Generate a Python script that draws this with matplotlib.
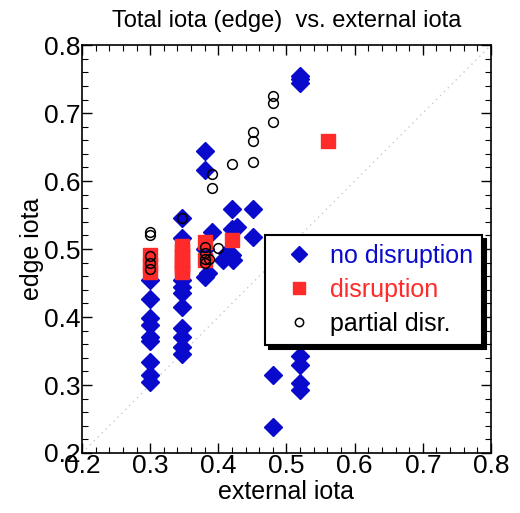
import matplotlib
matplotlib.use("Agg")
import matplotlib.pyplot as plt
from matplotlib.ticker import MultipleLocator

plt.rcParams['font.family'] = ['Liberation Sans', 'DejaVu Sans']

# no disruption (blue diamonds)
nd_x = [0.30]*9 + [0.347]*10 + [0.38, 0.38, 0.39, 0.42, 0.451, 0.427, 0.42, 0.451, 0.413, 0.42, 0.407, 0.422,
        0.385, 0.38, 0.38, 0.52, 0.52, 0.52, 0.52, 0.52, 0.52, 0.52, 0.48, 0.48]
nd_y = [0.454, 0.426, 0.399, 0.388, 0.371, 0.365, 0.334, 0.315, 0.304,
        0.546, 0.516, 0.454, 0.444, 0.435, 0.415, 0.384, 0.371, 0.356, 0.346,
        0.644, 0.616, 0.525, 0.559, 0.559, 0.532, 0.530, 0.518, 0.494, 0.491, 0.484, 0.484,
        0.465, 0.459, 0.50, 0.755, 0.750, 0.745, 0.343, 0.329, 0.303, 0.293, 0.315, 0.238]

# disruption (red squares)
d_x = [0.30, 0.30, 0.30, 0.347, 0.347, 0.347, 0.347, 0.347, 0.347, 0.347, 0.38, 0.38, 0.42, 0.561]
d_y = [0.491, 0.476, 0.466, 0.505, 0.497, 0.490, 0.483, 0.476, 0.470, 0.466, 0.510, 0.484, 0.513, 0.659]

# partial disruption (open circles)
p_x = [0.30, 0.30, 0.30, 0.30, 0.30, 0.347, 0.38, 0.38, 0.38, 0.38, 0.387, 0.40,
       0.39, 0.39, 0.42, 0.451, 0.451, 0.451, 0.48, 0.48, 0.48]
p_y = [0.525, 0.520, 0.490, 0.480, 0.470, 0.545, 0.503, 0.494, 0.486, 0.479, 0.486, 0.501,
       0.610, 0.590, 0.625, 0.672, 0.659, 0.628, 0.725, 0.715, 0.687]

fig = plt.figure(figsize=(5.2, 5.13), dpi=100)
ax = fig.add_axes([0.1577, 0.117, 0.7865, 0.795])

ax.plot([0.2, 0.8], [0.2, 0.8], linestyle=(0, (1, 3)), color='#c8c8c8', lw=1, zorder=1)

ax.plot(nd_x, nd_y, linestyle='none', marker='D', ms=9.5, color='#0a0acc',
        markeredgecolor='#0a0acc', label='no disruption', zorder=2)
ax.plot(d_x, d_y, linestyle='none', marker='s', ms=9.5, color='#ff2a2a',
        markeredgecolor='#ff2a2a', label='disruption', zorder=3)
ax.plot(p_x, p_y, linestyle='none', marker='o', ms=7, markerfacecolor='none',
        markeredgecolor='black', mew=1.1, label='partial disr.', zorder=4)

ax.set_xlim(0.2, 0.8)
ax.set_ylim(0.2, 0.8)
ax.xaxis.set_major_locator(MultipleLocator(0.1))
ax.yaxis.set_major_locator(MultipleLocator(0.1))
ax.xaxis.set_minor_locator(MultipleLocator(0.02))
ax.yaxis.set_minor_locator(MultipleLocator(0.02))
ax.tick_params(which='both', direction='in', top=True, right=True, labelsize=19, pad=1)
ax.tick_params(which='major', length=7, width=1)
ax.tick_params(which='minor', length=4, width=0.8)
for s in ax.spines.values():
    s.set_linewidth(1.2)

ax.set_xlabel('external iota', fontsize=18, labelpad=1)
ax.set_ylabel('edge iota', fontsize=18, labelpad=0)
ax.set_title('Total iota (edge)  vs. external iota', fontsize=17, pad=13)

leg = ax.legend(loc='upper left', bbox_to_anchor=(0.447, 0.534), fontsize=18,
                frameon=True, fancybox=False, borderpad=0.35, labelspacing=0.4,
                handlelength=2.0, handletextpad=0.25, borderaxespad=0,
                shadow={'color': 'black', 'alpha': 1, 'ox': 3, 'oy': -3})
leg.get_frame().set_edgecolor('black')
leg.get_frame().set_linewidth(1.5)
for t, c in zip(leg.get_texts(), ['#0a0acc', '#ff2a2a', 'black']):
    t.set_color(c)
hs = leg.legend_handles
hs[0].set_markersize(8)
hs[1].set_markersize(9)
hs[2].set_markersize(6)

fig.savefig('out.png', dpi=100)
